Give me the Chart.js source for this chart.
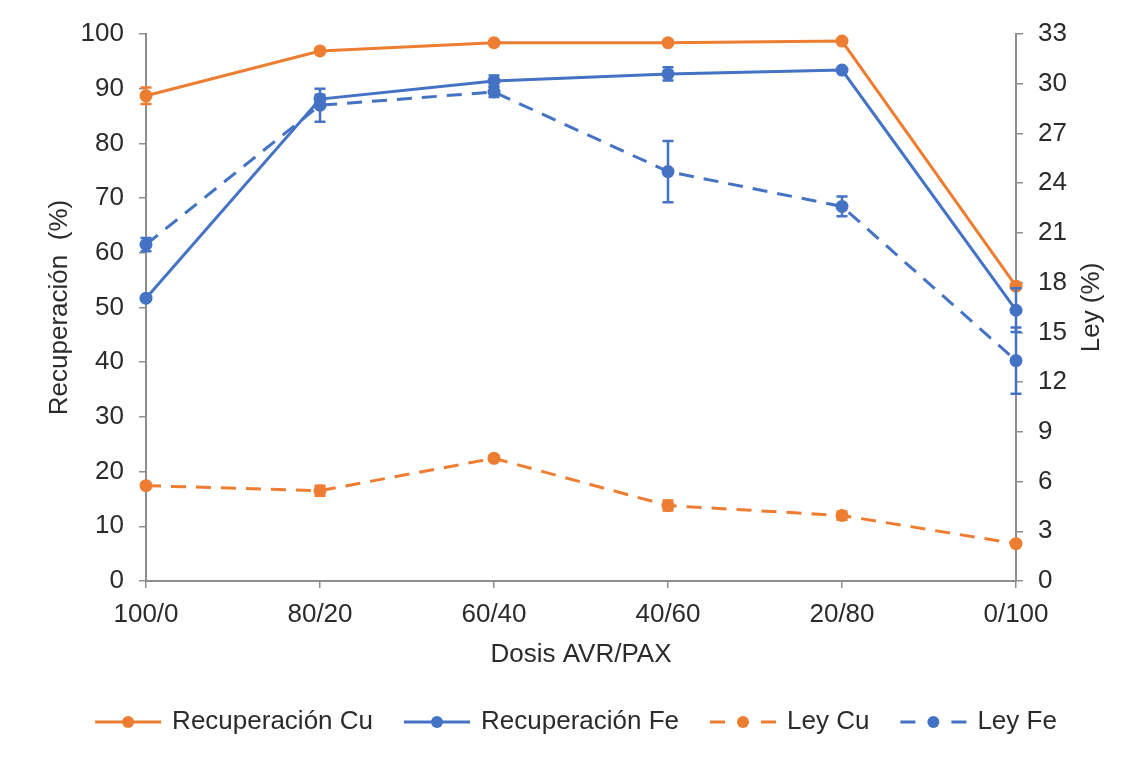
<!DOCTYPE html>
<html lang="es">
<head>
<meta charset="utf-8">
<title>Recuperación y ley Cu / Fe</title>
<script src="https://cdn.jsdelivr.net/npm/chart.js@4.4.1/dist/chart.umd.min.js"></script>
<style>
    html, body { margin: 0; padding: 0; background: #fff; }
    #grafico { display: block; }
</style>
</head>
<body>
<canvas id="grafico" width="1133" height="757"></canvas>
<script>
//DATOS
var dosis = ['100/0', '80/20', '60/40', '40/60', '20/80', '0/100'];
var recuperacionCu = [88.7, 96.9, 98.4, 98.4, 98.7, 53.9];
var recuperacionFe = [51.7, 88.1, 91.4, 92.7, 93.4, 49.5];
var leyCu = [5.75, 5.45, 7.4, 4.55, 3.95, 2.25];
var leyFe = [20.3, 28.7, 29.5, 24.7, 22.6, 13.3];

//DESVIACIONES (BARRAS DE ERROR)
var errorRecuperacionCu = [1.5, 0, 0, 0, 0, 0];
var errorRecuperacionFe = [0, 0.8, 1.0, 1.2, 0, 4];
var errorLeyCu = [0, 0.3, 0.15, 0.3, 0.25, 0];
var errorLeyFe = [0.4, 1.0, 0.3, 1.85, 0.6, 2.0];

//MARCAS DE LOS EJES
var marcasRecuperacion = [0, 10, 20, 30, 40, 50, 60, 70, 80, 90, 100];
var marcasLey = [0, 3, 6, 9, 12, 15, 18, 21, 24, 27, 30, 33];

var naranja = '#ED7D31';
var azul = '#4472C4';
var fuente = '"Liberation Sans", Arial, sans-serif';
var tamano = 26;
var colorTexto = '#2b2b2b';
var colorEje = '#8e8e8e';

function serie(nombre, valores, errores, color, eje, discontinua) {
    return {
        label: nombre,
        data: valores,
        errores: errores,
        yAxisID: eje,
        borderColor: color,
        backgroundColor: color,
        borderWidth: 3,
        borderDash: discontinua ? [15, 10] : [],
        pointRadius: 6.5,
        pointBorderWidth: 0,
        pointBackgroundColor: color,
        tension: 0,
        clip: false
    };
}

//BARRAS DE ERROR
function dibujarErrores(chart) {
    var ctx = chart.ctx;
    chart.data.datasets.forEach(function (ds, i) {
        var meta = chart.getDatasetMeta(i);
        var eje = chart.scales[ds.yAxisID];
        ctx.save();
        ctx.strokeStyle = ds.borderColor;
        ctx.lineWidth = 2.5;
        ctx.setLineDash([]);
        ds.errores.forEach(function (e, j) {
            if (!e) return;
            var x = meta.data[j].x;
            var arriba = eje.getPixelForValue(ds.data[j] + e);
            var abajo = eje.getPixelForValue(ds.data[j] - e);
            ctx.beginPath();
            ctx.moveTo(x, arriba); ctx.lineTo(x, abajo);
            ctx.moveTo(x - 5.5, arriba); ctx.lineTo(x + 5.5, arriba);
            ctx.moveTo(x - 5.5, abajo); ctx.lineTo(x + 5.5, abajo);
            ctx.stroke();
        });
        ctx.restore();
    });
}

//TITULOS DE LOS EJES
function dibujarTitulos(chart) {
    var ctx = chart.ctx;
    var area = chart.chartArea;
    var centroY = (area.top + area.bottom) / 2;
    ctx.save();
    ctx.fillStyle = colorTexto;
    ctx.font = tamano + 'px ' + fuente;
    ctx.textAlign = 'center';
    ctx.textBaseline = 'middle';

    ctx.fillText('Dosis AVR/PAX', (area.left + area.right) / 2, 655);

    ctx.save();
    ctx.translate(60, centroY);
    ctx.rotate(-Math.PI / 2);
    ctx.fillText('Recuperación  (%)', 0, 0);
    ctx.restore();

    ctx.save();
    ctx.translate(1092, centroY);
    ctx.rotate(-Math.PI / 2);
    ctx.fillText('Ley (%)', 0, 0);
    ctx.restore();

    ctx.restore();
}

//LEYENDA
function dibujarLeyenda(chart) {
    var ctx = chart.ctx;
    var largoLinea = 66;
    var separacion = 11;
    var espacio = 31;
    var y = 722;
    ctx.save();
    ctx.font = tamano + 'px ' + fuente;
    var anchos = chart.data.datasets.map(function (ds) {
        return largoLinea + separacion + ctx.measureText(ds.label).width;
    });
    var total = espacio * (anchos.length - 1);
    for (var k = 0; k < anchos.length; k++) total += anchos[k];
    var x = 576 - total / 2;

    chart.data.datasets.forEach(function (ds, i) {
        ctx.strokeStyle = ds.borderColor;
        ctx.fillStyle = ds.borderColor;
        ctx.lineWidth = ds.borderWidth;
        ctx.beginPath();
        if (ds.borderDash.length) {
            ctx.moveTo(x, y); ctx.lineTo(x + 15, y);
            ctx.moveTo(x + largoLinea - 15, y); ctx.lineTo(x + largoLinea, y);
        } else {
            ctx.moveTo(x, y); ctx.lineTo(x + largoLinea, y);
        }
        ctx.stroke();
        ctx.beginPath();
        ctx.arc(x + largoLinea / 2, y, 6, 0, Math.PI * 2);
        ctx.fill();

        ctx.fillStyle = colorTexto;
        ctx.textAlign = 'left';
        ctx.textBaseline = 'middle';
        ctx.fillText(ds.label, x + largoLinea + separacion, y);
        x += anchos[i] + espacio;
    });
    ctx.restore();
}

var extras = {
    id: 'extras',
    afterDatasetsDraw: function (chart) { dibujarErrores(chart); },
    afterDraw: function (chart) {
        dibujarTitulos(chart);
        dibujarLeyenda(chart);
    }
};

function ejeY(posicion, min, max, marcas, ancho) {
    return {
        type: 'linear',
        position: posicion,
        min: min,
        max: max,
        afterBuildTicks: function (eje) {
            eje.ticks = marcas.map(function (v) { return { value: v }; });
        },
        afterFit: function (eje) { eje.width = ancho; },
        grid: { drawOnChartArea: false, drawTicks: true, tickLength: 7, color: colorEje, lineWidth: 1.5 },
        border: { display: true, color: colorEje, width: 2 },
        ticks: { color: colorTexto, font: { family: fuente, size: tamano }, padding: 15 }
    };
}

var grafico = new Chart(document.getElementById('grafico'), {
    type: 'line',
    data: {
        labels: dosis,
        datasets: [
            serie('Recuperación Cu', recuperacionCu, errorRecuperacionCu, naranja, 'yRec', false),
            serie('Recuperación Fe', recuperacionFe, errorRecuperacionFe, azul, 'yRec', false),
            serie('Ley Cu', leyCu, errorLeyCu, naranja, 'yLey', true),
            serie('Ley Fe', leyFe, errorLeyFe, azul, 'yLey', true)
        ]
    },
    options: {
        responsive: false,
        animation: false,
        devicePixelRatio: 1,
        layout: { padding: { top: 34, left: 0, right: 0, bottom: 0 } },
        plugins: {
            legend: { display: false },
            tooltip: { enabled: false }
        },
        scales: {
            x: {
                type: 'category',
                offset: false,
                afterFit: function (eje) { eje.height = 176; },
                grid: { drawOnChartArea: false, drawTicks: true, tickLength: 7, color: colorEje, lineWidth: 1.5, offset: false },
                border: { display: true, color: colorEje, width: 2 },
                ticks: { color: colorTexto, font: { family: fuente, size: tamano }, padding: 11, maxRotation: 0 }
            },
            yRec: ejeY('left', 0, 100, marcasRecuperacion, 146),
            yLey: ejeY('right', 0, 33, marcasLey, 117)
        }
    },
    plugins: [extras]
});
</script>
</body>
</html>
